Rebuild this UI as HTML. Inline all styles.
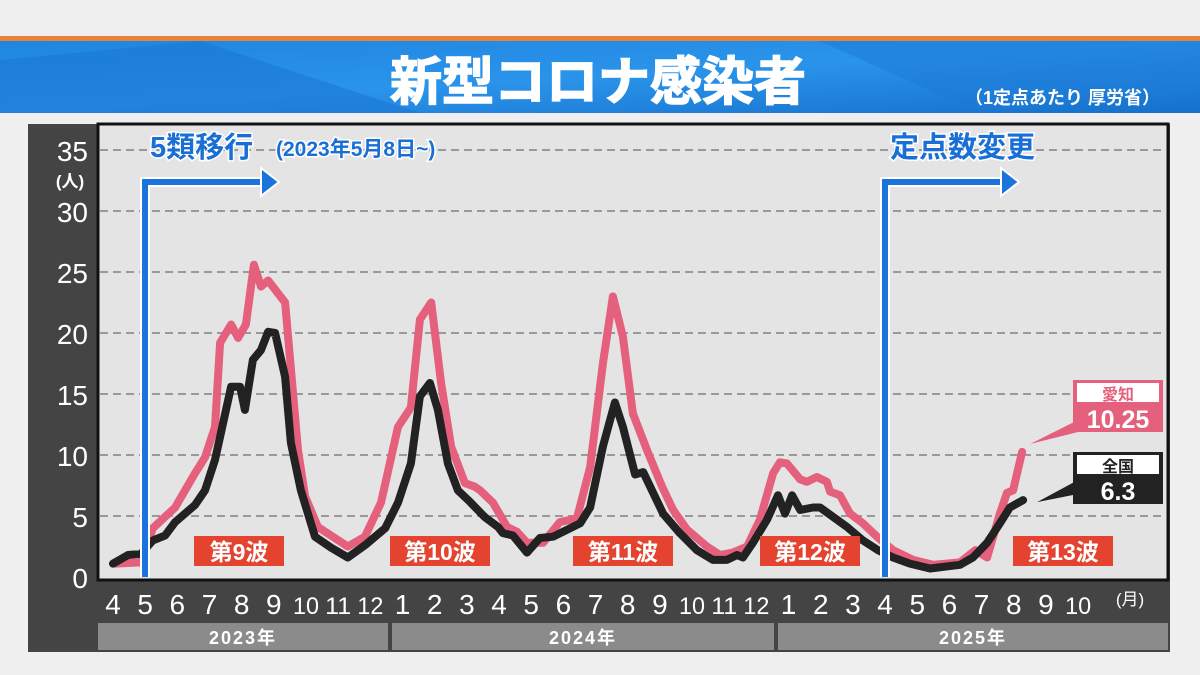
<!DOCTYPE html>
<html><head><meta charset="utf-8">
<style>
body{margin:0;width:1200px;height:675px;overflow:hidden;background:#eeeeee;font-family:"Liberation Sans","Noto Sans CJK JP",sans-serif;}
svg{display:block}
</style></head>
<body>
<svg id="chart" width="1200" height="675" viewBox="0 0 1200 675" xmlns="http://www.w3.org/2000/svg">
<defs>
<linearGradient id="band" x1="0" x2="1" y1="0" y2="1">
<stop offset="0" stop-color="#1f86e0"/><stop offset="0.5" stop-color="#2a93ea"/><stop offset="1" stop-color="#1570cc"/>
</linearGradient>
</defs>
<rect x="0" y="0" width="1200" height="675" fill="#efefef"/>
<rect x="0" y="36" width="1200" height="5" fill="#e8823a"/>
<rect x="0" y="41" width="1200" height="72" fill="url(#band)"/>
<polygon points="0,60 200,41 420,113 0,113" fill="#1a78d4" opacity="0.6"/>
<polygon points="820,41 1200,41 1200,90 980,113" fill="#1b7ad6" opacity="0.5"/>
<text x="598" y="100" text-anchor="middle" font-size="52" font-weight="bold" fill="#fff" stroke="#fff" stroke-width="1.5">新型コロナ感染者</text>
<text x="1160" y="104" text-anchor="end" font-size="18" font-weight="bold" fill="#fff">（1定点あたり 厚労省）</text>
<rect x="28" y="124" width="1142" height="528" fill="#444"/>
<rect x="98" y="124" width="1070" height="456" fill="#e4e4e4" stroke="#111" stroke-width="3"/>
<g id="grid"></g><g id="yt"></g><g id="xt"></g><g id="years"></g>
<g id="series"></g>
<g id="ann"></g>
</svg>
<script>
const yTicks=[0,5,10,15,20,25,30,35];
const monthLabels=["4","5","6","7","8","9","10","11","12","1","2","3","4","5","6","7","8","9","10","11","12","1","2","3","4","5","6","7","8","9","10"];
const yearLabels=["2023年","2024年","2025年"];
// month index since Apr 2023
const natT=[0,0.47,0.87,1.24,1.62,1.93,2.55,2.86,3.17,3.67,3.95,4.10,4.35,4.60,4.82,5.04,5.35,5.53,5.84,6.28,6.78,7.30,7.83,8.46,8.86,9.26,9.54,9.85,10.10,10.41,10.72,11.04,11.56,11.97,12.12,12.43,12.87,13.27,13.68,14.52,14.83,15.23,15.60,15.85,16.23,16.48,17.10,17.62,18.15,18.65,19.08,19.40,19.58,19.89,20.33,20.67,20.89,21.11,21.36,21.76,21.98,22.82,23.31,23.78,24.25,24.77,25.40,26.33,26.73,27.17,27.57,27.88,28.29];
const natV=[1.1,1.8,1.9,3.0,3.4,4.5,5.9,7.1,9.6,15.6,15.6,13.7,17.8,18.6,20.1,20.0,16.4,11.0,7.1,3.3,2.4,1.6,2.6,4.0,6.1,9.3,14.8,15.9,13.7,9.3,7.1,6.3,4.9,4.1,3.6,3.4,2.0,3.2,3.3,4.4,5.7,10.7,14.3,12.3,8.4,8.6,5.2,3.6,2.2,1.4,1.4,1.8,1.6,2.8,4.7,6.7,5.2,6.7,5.5,5.7,5.7,4.1,3.0,2.2,1.6,1.1,0.7,1.0,1.6,2.8,4.4,5.7,6.3];
const aiT=[0.06,0.87,1.24,1.93,2.55,2.86,3.17,3.33,3.67,3.89,4.13,4.38,4.60,4.82,5.35,5.50,5.75,5.97,6.37,7.30,7.83,8.33,8.86,9.26,9.54,9.89,10.20,10.51,10.94,11.25,11.41,11.81,12.25,12.56,12.87,13.37,13.89,14.42,14.83,15.23,15.54,15.85,16.16,16.60,17.07,17.41,17.84,18.46,18.87,19.27,19.71,20.11,20.52,20.73,20.95,21.36,21.57,21.88,22.19,22.29,22.60,22.91,23.31,23.75,24.25,24.87,25.49,26.33,26.80,27.17,27.57,27.79,27.98,28.26];
const aiV=[1.1,1.2,4.0,5.7,8.5,9.8,12.3,19.2,20.7,19.6,20.7,25.6,23.8,24.3,22.5,18.0,10.4,6.6,4.1,2.5,3.3,6.1,12.3,13.9,21.1,22.5,15.9,10.7,7.7,7.4,7.1,6.1,4.1,3.7,2.8,2.8,4.5,4.8,9.0,17.5,23.0,19.7,13.4,10.4,7.4,5.5,3.9,2.5,1.8,2.0,2.5,4.7,8.5,9.4,9.3,8.0,7.8,8.2,7.8,7.0,6.7,5.2,4.4,3.3,2.2,1.4,1.0,1.2,2.2,1.6,5.2,6.9,7.1,10.25];
const NS="http://www.w3.org/2000/svg";
const X=m=>113+m*32.17;
const Y=v=>577-v*12.2;
function mk(tag,attrs,parent,txt){const e=document.createElementNS(NS,tag);for(const k in attrs)if(attrs[k]!==null)e.setAttribute(k,attrs[k]);if(txt!==undefined)e.textContent=txt;parent.appendChild(e);return e;}
const grid=document.getElementById('grid'),yt=document.getElementById('yt'),xt=document.getElementById('xt'),yrs=document.getElementById('years'),ser=document.getElementById('series'),ann=document.getElementById('ann');
yTicks.forEach(v=>{
  if(v>0){const l=mk('line',{x1:100,x2:1166,y1:Y(v),y2:Y(v),stroke:'#999','stroke-width':2,'stroke-dasharray':'8,5'},grid);
  
  }
  const t=mk('text',{x:88,y:Y(v)+11,'text-anchor':'end','font-size':28,fill:'#fff'},yt,String(v));
  
  
});
const unit=mk('text',{x:70,y:187,'text-anchor':'middle','font-size':17,'font-weight':'bold',fill:'#fff'},yt,'(人)');


monthLabels.forEach((m,i)=>{
  const t=mk('text',{x:X(i),y:614,'text-anchor':'middle','font-size':m.length>1?24:28,fill:'#fff',textLength:m.length>1?26:null,lengthAdjust:'spacingAndGlyphs'},xt,m);
  
  
});
const mu=mk('text',{x:1130,y:605,'text-anchor':'middle','font-size':17,fill:'#fff'},xt,'(月)');


const yb=[[98,388],[392,774],[778,1168]];
yearLabels.forEach((y,i)=>{
  const r=mk('rect',{x:yb[i][0],y:623,width:yb[i][1]-yb[i][0],height:27,fill:'#8b8b8b'},yrs);
  
  
  const t=mk('text',{x:(yb[i][0]+yb[i][1])/2,y:644,'text-anchor':'middle','font-size':18,'font-weight':'bold',fill:'#fff','letter-spacing':2},yrs,y);
  
  
});
function line(T,V,color,name){
  const d=T.map((t,i)=>(i?'L':'M')+X(t).toFixed(1)+','+Y(V[i]).toFixed(1)).join('');
  const p=mk('path',{d:d,fill:'none',stroke:color,'stroke-width':8,'stroke-linejoin':'round','stroke-linecap':'round'},ser);
  
  
}
line(aiT,aiV,'#e5607c','aichi-line');
line(natT,natV,'#222','national-line');
function arrow(x,xe,name){
  const g=mk('g',{},ann);
  
  
  mk('path',{d:`M${x},577 L${x},182 L${xe},182`,fill:'none',stroke:'#fff','stroke-width':10},g);
  mk('path',{d:`M${x},577 L${x},182 L${xe},182`,fill:'none',stroke:'#1a74dc','stroke-width':6},g);
  mk('polygon',{points:`${xe-2},168 ${xe+16},182 ${xe-2},196`,fill:'#1a74dc',stroke:'#fff','stroke-width':2},g);
}
arrow(145,263,'arrow-5rui');
arrow(885,1003,'arrow-teiten');
const t1=mk('text',{x:150,y:157,'font-size':29,'font-weight':'bold',fill:'#1a6fd6',stroke:'#fff','stroke-width':3,'paint-order':'stroke'},ann,'5類移行');


const t2=mk('text',{x:276,y:156,'font-size':21,'font-weight':'bold',fill:'#1a6fd6',stroke:'#fff','stroke-width':3,'paint-order':'stroke'},ann,'(2023年5月8日~)');


const t3=mk('text',{x:890,y:157,'font-size':29,'font-weight':'bold',fill:'#1a6fd6',stroke:'#fff','stroke-width':3,'paint-order':'stroke'},ann,'定点数変更');


[['第9波',194,90],['第10波',390,100],['第11波',573,100],['第12波',760,100],['第13波',1013,100]].forEach((w,i)=>{
  const r=mk('rect',{x:w[1],y:536,width:w[2],height:30,fill:'#e3432f'},ann);
  
  
  const t=mk('text',{x:w[1]+w[2]/2,y:560,'text-anchor':'middle','font-size':23,'font-weight':'bold',fill:'#fff'},ann,w[0]);
  
  
});
const lastA=aiV[aiV.length-1],lastN=natV[natV.length-1];
mk('polygon',{points:`${X(aiT[aiT.length-1])+8},${Y(lastA)-8} 1078,420 1078,432`,fill:'#e5607c'},ann);
const ab=mk('rect',{x:1073,y:380,width:90,height:52,fill:'#e5607c'},ann);


mk('rect',{x:1077,y:383,width:82,height:19,fill:'#fff'},ann);
const al=mk('text',{x:1118,y:400,'text-anchor':'middle','font-size':16,'font-weight':'bold',fill:'#e5607c'},ann,'愛知');


const av=mk('text',{x:1118,y:428,'text-anchor':'middle','font-size':25,'font-weight':'bold',fill:'#fff'},ann,String(lastA));


mk('polygon',{points:`${X(natT[natT.length-1])+14},${Y(lastN)+2} 1078,480 1078,494`,fill:'#222'},ann);
const nb=mk('rect',{x:1073,y:452,width:90,height:52,fill:'#222'},ann);


mk('rect',{x:1077,y:455,width:82,height:19,fill:'#fff'},ann);
const nl=mk('text',{x:1118,y:472,'text-anchor':'middle','font-size':16,'font-weight':'bold',fill:'#222'},ann,'全国');


const nv=mk('text',{x:1118,y:500,'text-anchor':'middle','font-size':25,'font-weight':'bold',fill:'#fff'},ann,String(lastN));


</script>
</body></html>
